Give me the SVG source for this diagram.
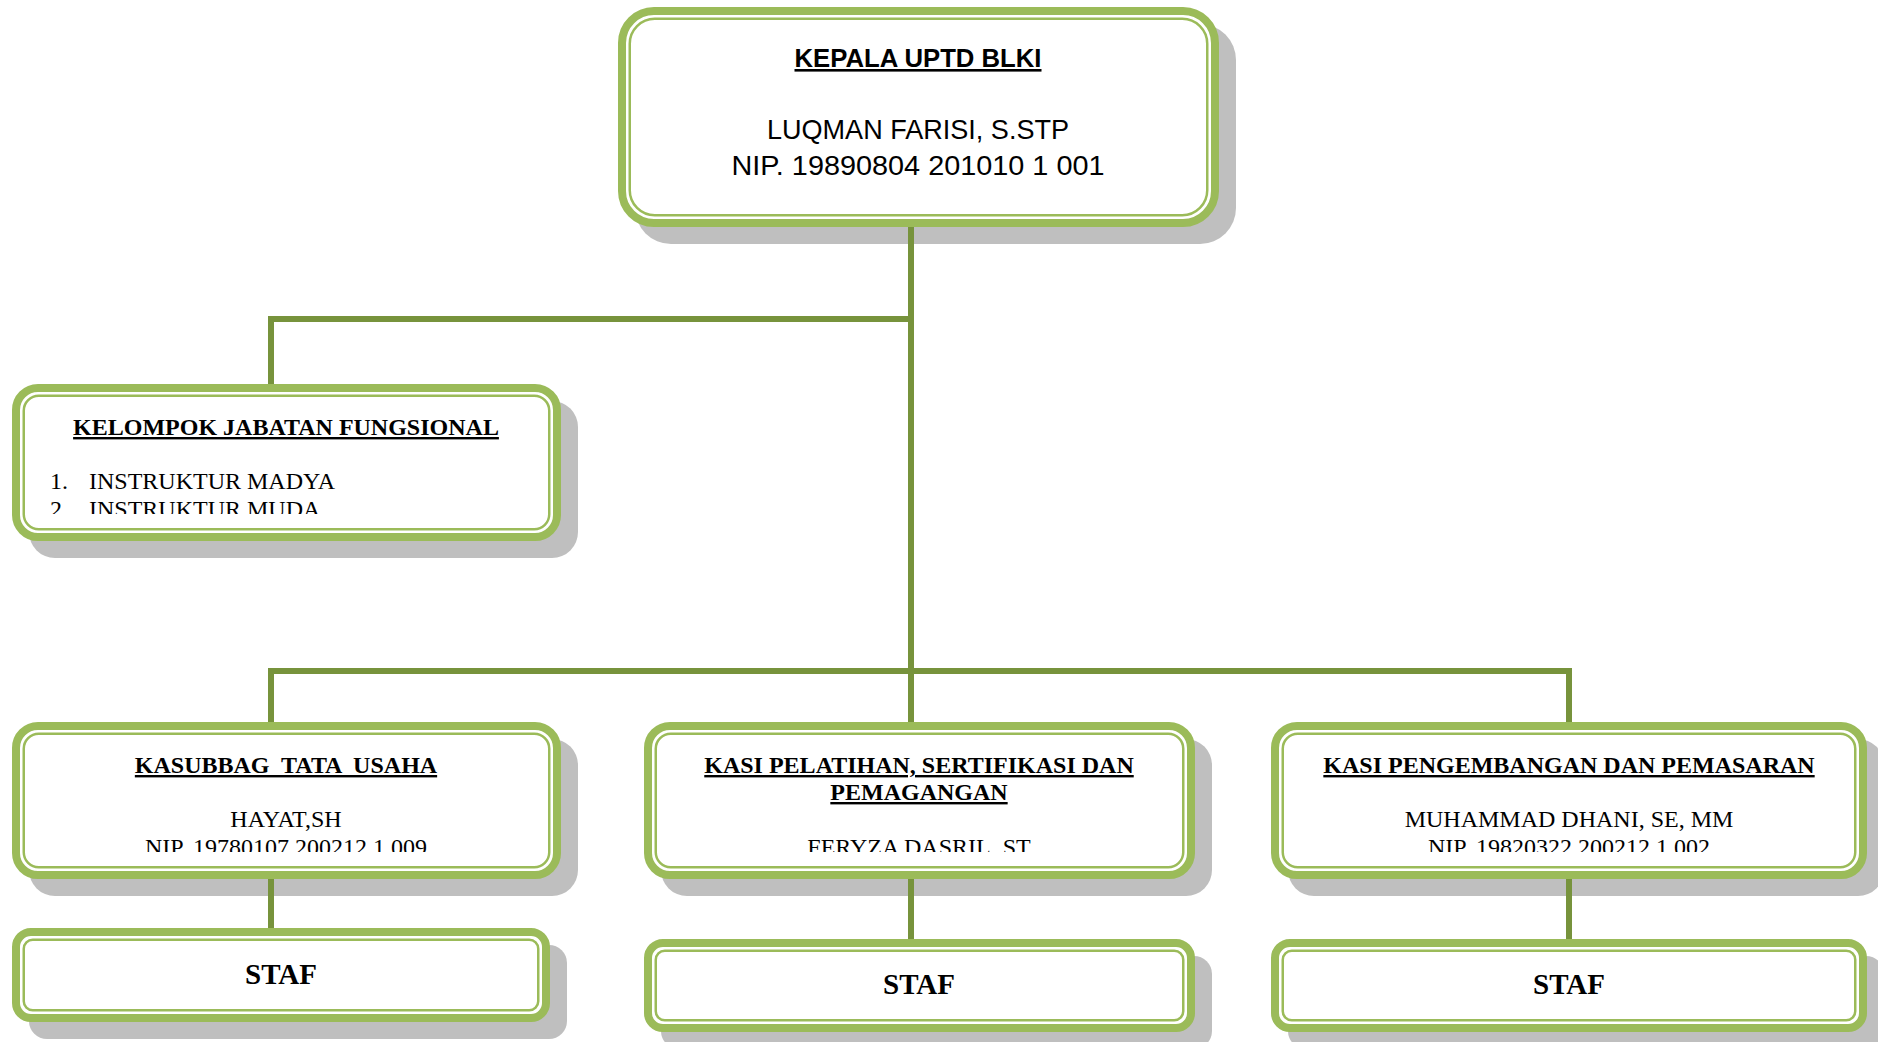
<svg xmlns="http://www.w3.org/2000/svg" width="1878" height="1042" viewBox="0 0 1878 1042">
<style>
.shadow{fill:#BFBFBF}
.outer{fill:#FFFFFF;stroke:#9BBB59;stroke-width:8}
.inner{fill:none;stroke:#9BBB59;stroke-width:2.5}
.conn{fill:none;stroke:#77933C;stroke-width:6;stroke-linejoin:miter;stroke-linecap:butt}
.cg{font-family:"Liberation Sans",Arial,sans-serif;fill:#000}
.tn{font-family:"Liberation Serif","Times New Roman",serif;fill:#000;font-size:24px}
.staf{font-size:29px}
.b{font-weight:bold}
.u{text-decoration:underline}
.mid{text-anchor:middle}
.pre{white-space:pre}
</style>
<defs>
<clipPath id="clipKel"><rect x="0" y="380" width="600" height="134"/></clipPath>
<clipPath id="clipRow"><rect x="0" y="715" width="1878" height="137"/></clipPath>
</defs>

<g id="node-kepala">
<rect class="shadow" x="635" y="24" width="601" height="220" rx="36"/>
<rect class="outer" x="622" y="11" width="593" height="212" rx="32"/>
<rect class="inner" x="629.75" y="18.75" width="577.5" height="196.5" rx="25"/>
<text class="cg b u mid" x="918" y="67" font-size="26" textLength="247" lengthAdjust="spacingAndGlyphs">KEPALA UPTD BLKI</text>
<text class="cg mid" x="918" y="139" font-size="28" textLength="302" lengthAdjust="spacingAndGlyphs">LUQMAN FARISI, S.STP</text>
<text class="cg mid" x="918" y="175" font-size="28" textLength="373" lengthAdjust="spacingAndGlyphs">NIP. 19890804 201010 1 001</text>
</g>

<g id="node-kelompok">
<rect class="shadow" x="29" y="401" width="549" height="157" rx="26"/>
<rect class="outer" x="16" y="388" width="541" height="149" rx="22"/>
<rect class="inner" x="23.75" y="395.75" width="525.5" height="133.5" rx="15"/>
<text class="tn b u mid" x="286" y="435">KELOMPOK JABATAN FUNGSIONAL</text>
<g clip-path="url(#clipKel)">
<text class="tn" x="50" y="489">1.</text>
<text class="tn" x="89" y="489">INSTRUKTUR MADYA</text>
<text class="tn" x="50" y="517">2.</text>
<text class="tn" x="89" y="517">INSTRUKTUR MUDA</text>
</g>
</g>

<g id="node-kasubbag">
<rect class="shadow" x="29" y="739" width="549" height="157" rx="26"/>
<rect class="outer" x="16" y="726" width="541" height="149" rx="22"/>
<rect class="inner" x="23.75" y="733.75" width="525.5" height="133.5" rx="15"/>
<text class="tn b u mid pre" x="286" y="773">KASUBBAG  TATA  USAHA</text>
<g clip-path="url(#clipRow)">
<text class="tn mid" x="286" y="827">HAYAT,SH</text>
<text class="tn mid" x="286" y="855">NIP. 19780107 200212 1 009</text>
</g>
</g>

<g id="node-kasi-pelatihan">
<rect class="shadow" x="661" y="739" width="551" height="157" rx="26"/>
<rect class="outer" x="648" y="726" width="543" height="149" rx="22"/>
<rect class="inner" x="655.75" y="733.75" width="527.5" height="133.5" rx="15"/>
<text class="tn b u mid" x="919" y="773">KASI PELATIHAN, SERTIFIKASI DAN</text>
<text class="tn b u mid" x="919" y="800">PEMAGANGAN</text>
<g clip-path="url(#clipRow)">
<text class="tn mid" x="919" y="855">FERYZA DASRIL, ST</text>
</g>
</g>

<g id="node-kasi-pengembangan">
<rect class="shadow" x="1288" y="739" width="596" height="157" rx="26"/>
<rect class="outer" x="1275" y="726" width="588" height="149" rx="22"/>
<rect class="inner" x="1282.75" y="733.75" width="572.5" height="133.5" rx="15"/>
<text class="tn b u mid" x="1569" y="773">KASI PENGEMBANGAN DAN PEMASARAN</text>
<g clip-path="url(#clipRow)">
<text class="tn mid" x="1569" y="827">MUHAMMAD DHANI, SE, MM</text>
<text class="tn mid" x="1569" y="855">NIP. 19820322 200212 1 002</text>
</g>
</g>

<g id="node-staf-1">
<rect class="shadow" x="29" y="945" width="538" height="94" rx="18"/>
<rect class="outer" x="16" y="932" width="530" height="86" rx="15"/>
<rect class="inner" x="23.75" y="939.75" width="514.5" height="70.5" rx="9"/>
<text class="tn staf b mid" x="281" y="984">STAF</text>
</g>

<g id="node-staf-2">
<rect class="shadow" x="661" y="956" width="551" height="93" rx="18"/>
<rect class="outer" x="648" y="943" width="543" height="85" rx="15"/>
<rect class="inner" x="655.75" y="950.75" width="527.5" height="69.5" rx="9"/>
<text class="tn staf b mid" x="919" y="994">STAF</text>
</g>

<g id="node-staf-3">
<rect class="shadow" x="1288" y="956" width="596" height="93" rx="18"/>
<rect class="outer" x="1275" y="943" width="588" height="85" rx="15"/>
<rect class="inner" x="1282.75" y="950.75" width="572.5" height="69.5" rx="9"/>
<text class="tn staf b mid" x="1569" y="994">STAF</text>
</g>

<g id="connectors">
<path class="conn" d="M911,227 V722"/>
<path class="conn" d="M911,319 H271 V384"/>
<path class="conn" d="M271,722 V671 H1569 V722"/>
<path class="conn" d="M271,879 V928"/>
<path class="conn" d="M911,879 V939"/>
<path class="conn" d="M1569,879 V939"/>
</g>
</svg>
